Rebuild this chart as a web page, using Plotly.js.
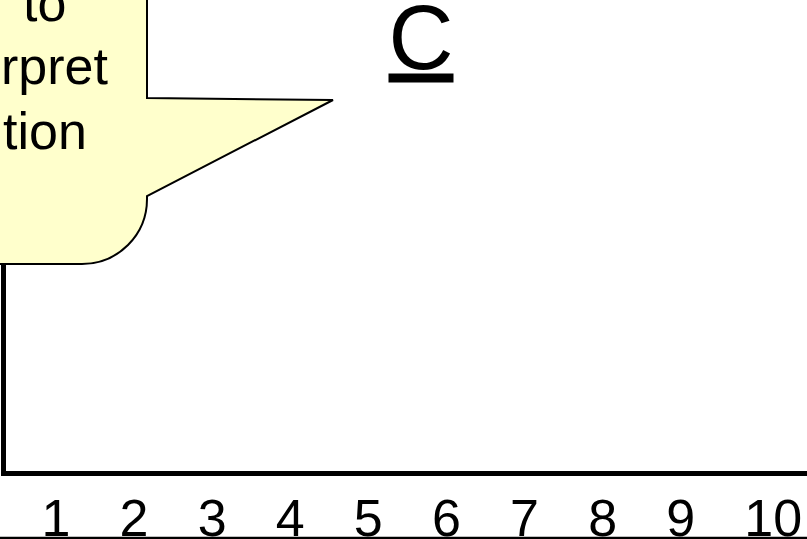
<!DOCTYPE html>
<html>
<head>
<meta charset="utf-8">
<script src="https://cdn.plot.ly/plotly-3.0.1.min.js"></script>
<style>html,body{margin:0;padding:0;background:#fff;}#chart{width:807px;height:539px;}</style>
</head>
<body>
<div id="chart"></div>
<script>
// ---- data ----
const xTicks = [1, 2, 3, 4, 5, 6, 7, 8, 9, 10];
const tickLabels = ['1', '2', '3', '4', '5', '6', '7', '8', '9', '10'];
const seriesValues = [null, null, null, null, null, null, null, null, null, null];
const chartTitle = 'C';
const calloutLines = ['to', 'rpret', 'tion'];

// ---- layout helpers (pixel -> paper) ----
const W = 807, H = 539;
const M = {l: 6, r: 0, t: 0, b: 68};
const PW = W - M.l - M.r, PH = H - M.t - M.b;
const PX = x => (x - M.l) / PW;
const PY = y => (PH + M.t - y) / PH;
const FONT = 'Arial, "Liberation Sans", sans-serif';

const calloutPath = [
  'M', PX(-10), PY(-10),
  'L', PX(147), PY(-10),
  'L', PX(147), PY(98),
  'L', PX(333), PY(100),
  'L', PX(147), PY(196),
  'L', PX(147), PY(199),
  'C', PX(147), PY(235), PX(118), PY(264), PX(82), PY(264),
  'L', PX(-10), PY(264), 'Z'
].join(' ');

const calloutRight = [68, 110, 88.5];
const calloutMid = [3, 66, 131];

const annotations = calloutLines.map((t, i) => ({
  xref: 'paper', yref: 'paper',
  x: PX(calloutRight[i]), y: PY(calloutMid[i]),
  xanchor: 'right', yanchor: 'middle',
  text: t, showarrow: false,
  font: {family: FONT, size: 52, color: '#000'}
}));

const data = [{
  x: xTicks, y: seriesValues, type: 'scatter', mode: 'markers',
  marker: {color: '#000'}, hoverinfo: 'skip'
}];

const layout = {
  width: W, height: H,
  margin: {l: M.l, r: M.r, t: M.t, b: M.b, pad: 0},
  paper_bgcolor: '#fff', plot_bgcolor: '#fff',
  showlegend: false,
  title: {
    text: chartTitle,
    xref: 'container', yref: 'container',
    x: 421 / W, xanchor: 'center',
    y: 1 - 37 / H, yanchor: 'middle',
    font: {family: FONT, size: 90, color: '#000', lineposition: 'under'}
  },
  xaxis: {
    range: [0.578, 10.834],
    tickmode: 'array', tickvals: xTicks, ticktext: tickLabels,
    ticks: '', showgrid: false, zeroline: false,
    showline: true, linewidth: 5, linecolor: '#000',
    ticklabelposition: 'outside right',
    ticklabelstandoff: -2,
    tickfont: {family: FONT, size: 52, color: '#000'},
    fixedrange: true
  },
  yaxis: {
    range: [0, 1], showticklabels: false, ticks: '',
    showgrid: false, zeroline: false,
    showline: true, linewidth: 5, linecolor: '#000',
    fixedrange: true
  },
  shapes: [
    {type: 'line', xref: 'paper', yref: 'paper',
     x0: PX(0), x1: PX(807), y0: PY(538), y1: PY(538),
     line: {color: '#000', width: 2.5}, layer: 'above'},
    {type: 'path', xref: 'paper', yref: 'paper', path: calloutPath,
     fillcolor: '#FFFFCC', line: {color: '#000', width: 2}, layer: 'above'}
  ],
  annotations: annotations
};

Plotly.newPlot('chart', data, layout, {staticPlot: true, displayModeBar: false});
</script>
</body>
</html>
